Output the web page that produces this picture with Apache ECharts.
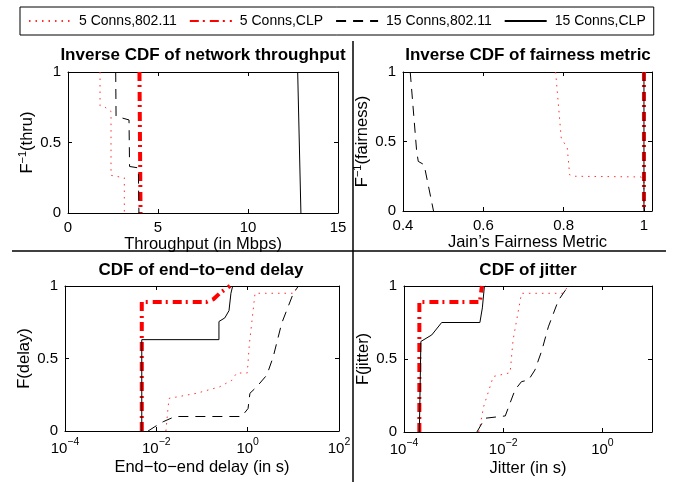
<!DOCTYPE html>
<html>
<head>
<meta charset="UTF-8" />
<script type="text/javascript" src="https://cdn.jsdelivr.net/npm/echarts@6/dist/echarts.min.js"></script>
<title>CDF plots</title>
<style>body{margin:0;background:#fff}#main{width:678px;height:482px}</style>
</head>
<body>
<div id="main"></div>
<script type="text/javascript">
	var names = ['5 Conns,802.11', '5 Conns,CLP', '15 Conns,802.11', '15 Conns,CLP']

	// inverse CDF of throughput: [Mbps, F^-1]
	var thru5Dcf = [[1.78,1],[1.78,0.76],[2.06,0.75],[2.39,0.72],[2.39,0.267],[2.98,0.253],[3.13,0.25],[3.13,0]]
	var thru5Clp = [[3.97,1],[4.03,0]]
	var thru15Dcf = [[2.65,1],[2.67,0.686],[3.39,0.66],[3.42,0.33],[3.48,0.326],[3.91,0.32],[3.94,0]]
	var thru15Clp = [[12.76,1],[12.94,0]]

	// inverse CDF of Jain's fairness
	var fair5Dcf = [[0.78,1],[0.794,0.525],[0.809,0.453],[0.815,0.26],[0.825,0.25],[0.9925,0.245],[1.0,0.22],[1.0,0]]
	var fair5Clp = [[1.0,1],[1.0,0]]
	var fair15Dcf = [[0.418,1],[0.434,0.43],[0.438,0.357],[0.4525,0.333],[0.476,0]]
	var fair15Clp = [[1.0,1],[1.0,0]]

	// CDF of end-to-end delay [s, F]
	var delay5Dcf = [[0.0162,0],[0.018,0.156],[0.019,0.225],[0.076,0.26],[0.245,0.305],[0.45,0.35],[0.575,0.40],[0.98,0.40],[1.09,0.6],[1.45,0.95],[10.9,0.95],[11.7,1]]
	var delay5Clp = [[0.0048,0],[0.0048,0.89],[0.126,0.89],[0.18,0.91],[0.245,0.95],[0.41,1]]
	var delay15Dcf = [[0.0066,0],[0.0093,0.03],[0.0141,0.064],[0.0257,0.10],[0.74,0.10],[1.02,0.155],[1.12,0.26],[1.58,0.305],[2.63,0.386],[3.63,0.512],[5.56,0.743],[10,0.95],[11.7,0.98],[12.9,1]]
	var delay15Clp = [[0.0048,0],[0.0048,0.63],[0.235,0.63],[0.235,0.755],[0.316,0.78],[0.39,0.83],[0.43,0.95],[0.47,1]]

	// CDF of jitter [s, F]
	var jit5Dcf = [[0.0032,0],[0.0034,0.036],[0.004,0.17],[0.0063,0.38],[0.0138,0.406],[0.0158,0.63],[0.0234,0.95],[0.162,0.95],[0.204,1]]
	var jit5Clp = [[0.000204,0],[0.000204,0.89],[0.00339,0.89],[0.00372,1]]
	var jit15Dcf = [[0.00295,0],[0.00427,0.094],[0.011,0.11],[0.0138,0.2],[0.0174,0.29],[0.0234,0.345],[0.0324,0.356],[0.0437,0.425],[0.0603,0.56],[0.0813,0.72],[0.129,0.90],[0.178,0.97],[0.24,1]]
	var jit15Clp = [[0.000204,0],[0.000219,0.62],[0.000363,0.665],[0.000575,0.75],[0.00339,0.75],[0.0038,0.85],[0.00417,0.995],[0.0044,1]]

	var font = 'Liberation Sans'
	var styles = [
		{color:'#ff3030', width:1, type:[1.5,5]},
		{color:'#ff0000', width:4, type:[9,4,2,5]},
		{color:'#000000', width:1, type:[10,7]},
		{color:'#000000', width:1, type:'solid'}
	]
	var supRich = {
		b : {fontSize:15, fontFamily:font, color:'#000', verticalAlign:'bottom', lineHeight:19},
		s : {fontSize:10.5, fontFamily:font, color:'#000', verticalAlign:'top', lineHeight:19}
	}

	function logLabel(v) {
		var e = Math.round(Math.log10(v))
		if (e % 2 != 0) return ''
		return '{b|10}{s|' + (e < 0 ? '\u2212' + (-e) : e) + '}'
	}

	function axis(i, pos, o) {
		var a = {
			gridIndex : i,
			position : pos,
			axisLine : {onZero:false, lineStyle:{color:'#000', width:1}},
			axisTick : {show:true, inside:true, length:4, lineStyle:{color:'#000'}},
			axisLabel : {color:'#000', fontSize:15, fontFamily:font, margin:7},
			splitLine : {show:false},
			nameLocation : 'middle',
			nameTextStyle : {color:'#000', fontSize:16.5, fontFamily:font, rich:{
				s : {fontSize:11, fontFamily:font, color:'#000', verticalAlign:'top', lineHeight:20},
				b : {fontSize:16.5, fontFamily:font, color:'#000'}
			}}
		}
		if (pos == 'top' || pos == 'right') {
			a.axisLabel.show = false
		}
		for (var k in o) a[k] = o[k]
		return a
	}

	var xs = [
		{type:'value', min:0, max:15, interval:5, name:'Throughput (in Mbps)', nameGap:20},
		{type:'value', min:0.4, max:1.02, interval:0.2, name:'Jain\u2019s Fairness Metric', nameGap:21},
		{type:'log', logBase:10, min:0.0001, max:100, interval:2, name:'End\u2212to\u2212end delay (in s)', nameGap:28},
		{type:'log', logBase:10, min:0.0001, max:10, interval:2, name:'Jitter (in s)', nameGap:28}
	]
	var ys = [
		{name:'F{s|\u22121}(thru)', nameGap:27},
		{name:'F{s|\u22121}(fairness)', nameGap:27},
		{name:'F(delay)', nameGap:26},
		{name:'F(jitter)', nameGap:28}
	]

	var xAxis = [], yAxis = []
	for (var i = 0; i < 4; i++) {
		var xo = Object.assign({}, xs[i])
		var xa = axis(i, 'bottom', xo)
		if (xs[i].type == 'log') {
			xa.axisLabel.formatter = logLabel
			xa.axisLabel.rich = supRich
			xa.axisLabel.margin = 6
		}
		if (i == 1 || i == 3) xa.axisLabel.showMaxLabel = false
		xAxis.push(xa)
		yAxis.push(axis(i, 'left', {type:'value', min:0, max:1, interval:0.5, name:ys[i].name, nameGap:ys[i].nameGap}))
	}
	for (var i = 0; i < 4; i++) {
		var xt = Object.assign({}, xs[i])
		delete xt.name
		xAxis.push(axis(i, 'top', xt))
		yAxis.push(axis(i, 'right', {type:'value', min:0, max:1, interval:0.5}))
	}

	var panels = [
		[thru5Dcf, thru5Clp, thru15Dcf, thru15Clp],
		[fair5Dcf, fair5Clp, fair15Dcf, fair15Clp],
		[delay5Dcf, delay5Clp, delay15Dcf, delay15Clp],
		[jit5Dcf, jit5Clp, jit15Dcf, jit15Clp]
	]
	var series = []
	for (var p = 0; p < 4; p++) {
		for (var s = 0; s < 4; s++) {
			series.push({
				name : names[s],
				type : 'line',
				xAxisIndex : p,
				yAxisIndex : p,
				data : panels[p][s],
				symbol : 'none',
				silent : true,
				animation : false,
				itemStyle : {color:'rgba(0,0,0,0)', borderWidth:0},
				lineStyle : styles[s]
			})
		}
	}

	var titleStyle = {color:'#000', fontSize:17, fontWeight:'bold', fontFamily:font}
	var option = {
		animation : false,
		title : [
			{text:'Inverse CDF of network throughput', left:203, top:47, textAlign:'center', padding:0, textStyle:titleStyle},
			{text:'Inverse CDF of fairness metric', left:528, top:47, textAlign:'center', padding:0, textStyle:titleStyle},
			{text:'CDF of end\u2212to\u2212end delay', left:201, top:262, textAlign:'center', padding:0, textStyle:titleStyle},
			{text:'CDF of jitter', left:528, top:262, textAlign:'center', padding:0, textStyle:titleStyle}
		],
		legend : {
			data : names,
			left : 20,
			top : 7,
			padding : [7, 8],
			itemWidth : 42,
			itemHeight : 10,
			itemGap : 12,
			borderColor : '#000',
			borderWidth : 1,
			selectedMode : false,
			itemStyle : {color:'rgba(0,0,0,0)', borderWidth:0},
			textStyle : {color:'#000', fontSize:14, fontFamily:font, padding:[0,0,0,3]}
		},
		grid : [
			{left:68, top:72, width:270, height:141},
			{left:403, top:72, width:249, height:139},
			{left:65, top:286, width:274, height:145},
			{left:404, top:286, width:248, height:146}
		],
		xAxis : xAxis,
		yAxis : yAxis,
		series : series,
		graphic : [
			{type:'line', shape:{x1:12, y1:251, x2:666, y2:251}, style:{stroke:'#000', lineWidth:1.5}},
			{type:'line', shape:{x1:353, y1:41, x2:353, y2:482}, style:{stroke:'#000', lineWidth:1.5}}
		]
	}

	var myChart = echarts.init(document.getElementById('main'))
	myChart.setOption(option)
</script>
</body>
</html>
